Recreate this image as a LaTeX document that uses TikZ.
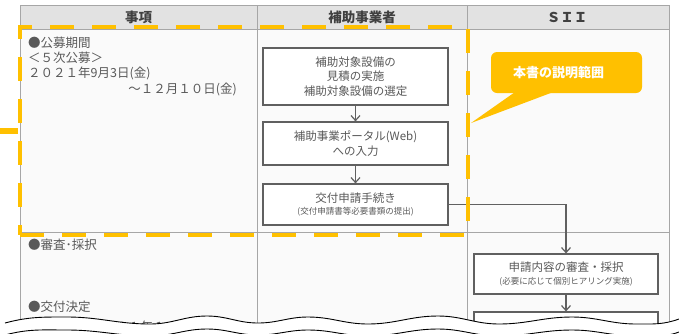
\documentclass[tikz,border=0pt]{standalone}
\usepackage{fontspec}
\setmainfont{Noto Sans CJK JP}
\usetikzlibrary{arrows.meta}
\definecolor{sorange}{HTML}{FFC000}
\definecolor{txt}{HTML}{595959}
\definecolor{hdtxt}{HTML}{404040}
\definecolor{boxc}{HTML}{606060}
\definecolor{gridc}{HTML}{A6A6A6}
\definecolor{hdfill}{HTML}{E2E2E2}
\definecolor{bodyfill}{HTML}{FAFAFA}
\tikzset{
  box/.style={draw=boxc, line width=1.2pt, fill=white, minimum width=185pt, align=center,
    inner sep=0pt, text=txt, font=\fontsize{11.5}{14.5}\selectfont},
  arr/.style={draw=boxc, line width=1.2pt, -{Straight Barb[length=5pt,width=9pt]}},
  hd/.style={text=hdtxt, font=\fontsize{13.5}{14}\selectfont\bfseries, inner sep=0pt},
  lt/.style={text=txt, font=\fontsize{12.5}{14}\selectfont, inner sep=0pt},
  grid/.style={draw=gridc, line width=1pt},
  rangebox/.style={draw=sorange, line width=4.5pt, dash pattern=on 24pt off 18pt},
}
\begin{document}
\begin{tikzpicture}[x=1pt,y=-1pt]
\useasboundingbox (0,0) rectangle (679,333);
% table background
\fill[bodyfill] (20,29) rectangle (669,340);
\fill[hdfill] (20,5) rectangle (669,29);
\draw[grid] (20,5) -- (669,5);
\draw[grid] (20,29) -- (669,29);
\draw[grid] (20,232) -- (669,232);
\draw[grid] (20,5) -- (20,340);
\draw[grid] (257,5) -- (257,340);
\draw[grid] (467,5) -- (467,340);
\draw[grid] (669,5) -- (669,340);
% headers
\node[hd] (h1) at (138.5,17) {事項};
\node[hd] (h2) at (362,17) {補助事業者};
\node[hd] (h3) at (567,17) {ＳＩＩ};
% left column
\node[lt, anchor=west] (t1) at (28,43) {●公募期間};
\node[lt, anchor=west] (t2) at (28,58) {＜５次公募＞};
\node[lt, anchor=west] (t3) at (28,73) {２０２１年9月3日(金)};
\node[lt, anchor=east] (t4) at (237,89) {～１２月１０日(金)};
\node[lt, anchor=west] (t5) at (28,245) {●審査･採択};
\node[lt, anchor=west] (t6) at (28,307) {●交付決定};
\node[lt, anchor=west] (t7) at (28,327) {決定予定：２０２１年１２月下旬迄};
% boxes
\node[box, minimum height=57pt] (b1) at (355.5,76.5) {補助対象設備の\\見積の実施\\補助対象設備の選定};
\node[box, minimum height=43pt] (b2) at (355.5,143.5) {補助事業ポータル(Web)\\への入力};
\node[box, minimum height=41pt] (b3) at (355.5,204.5) {交付申請手続き\\[-2pt]{\fontsize{8.5}{10}\selectfont (交付申請書等必要書類の提出)}};
\node[box, minimum width=184pt, minimum height=40pt] (b4) at (566,274) {申請内容の審査・採択\\[-2pt]{\fontsize{8.5}{10}\selectfont (必要に応じて個別ヒアリング実施)}};
\node[box, minimum width=184pt, minimum height=36pt] (b5) at (566,330) {};
\draw[arr] (b1) -- (b2);
\draw[arr] (b2) -- (b3);
\draw[arr] (b3.east) -| (b4.north);
\draw[arr] (b4) -- (b5);
% range
\node[rangebox, minimum width=448pt, minimum height=208pt, inner sep=0pt] (range) at (244,131) {};
\coordinate (stub) at (0,131);
\draw[sorange, line width=6pt] (stub) -- (range.west);
% callout
\node[fill=sorange, rounded corners=6pt, minimum width=151pt, minimum height=41pt, inner sep=0pt,
  text=white, font=\fontsize{13}{14}\selectfont\bfseries] (call) at (566.5,72.5) {本書の説明範囲\hspace*{16pt}};
\coordinate (tip) at (471,123);
\fill[sorange] ([xshift=24pt,yshift=1pt]call.south west) -- (tip) -- ([xshift=62pt,yshift=1pt]call.south west) -- cycle;
% torn edge
\fill[white] (0,323) -- (5,323) to[out=15,in=180] (67,317) to[out=0,in=180] (150,324)
  to[out=0,in=180] (207,316) to[out=0,in=180] (258,323) to[out=0,in=180] (308,317)
  to[out=0,in=180] (368,324) to[out=0,in=180] (438,316) to[out=0,in=180] (499,324)
  to[out=0,in=180] (572,317) to[out=0,in=180] (636,324) to[out=0,in=200] (679,319)
  -- (679,345) -- (0,345) -- cycle;
\draw[black, line width=0.9pt] (5,323) to[out=15,in=180] (67,317) to[out=0,in=180] (150,324)
  to[out=0,in=180] (207,316) to[out=0,in=180] (258,323) to[out=0,in=180] (308,317)
  to[out=0,in=180] (368,324) to[out=0,in=180] (438,316) to[out=0,in=180] (499,324)
  to[out=0,in=180] (572,317) to[out=0,in=180] (636,324) to[out=0,in=200] (679,319);
\draw[black, line width=0.9pt] (5,335) to[out=15,in=180] (67,330) to[out=0,in=180] (150,336)
  to[out=0,in=180] (207,329) to[out=0,in=180] (258,335) to[out=0,in=180] (308,330)
  to[out=0,in=180] (368,336) to[out=0,in=180] (438,329) to[out=0,in=180] (499,336)
  to[out=0,in=180] (572,330) to[out=0,in=180] (636,336) to[out=0,in=200] (679,332);
\end{tikzpicture}
\end{document}
